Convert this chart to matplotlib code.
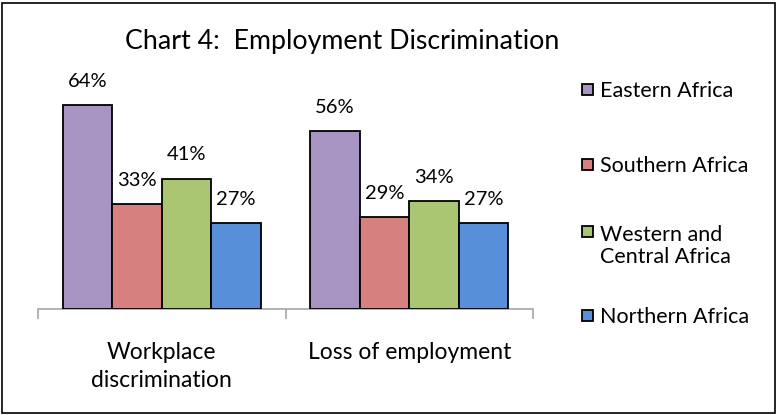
import matplotlib
matplotlib.use('Agg')
import matplotlib.pyplot as plt
from matplotlib.patches import Rectangle
import numpy as np

plt.rcParams['font.family'] = ['Lato', 'DejaVu Sans']

categories = ['Workplace\ndiscrimination', 'Loss of employment']
regions = ['Eastern Africa', 'Southern Africa', 'Western and\nCentral Africa', 'Northern Africa']
values = {
    'Eastern Africa': [64, 56],
    'Southern Africa': [33, 29],
    'Western and\nCentral Africa': [41, 34],
    'Northern Africa': [27, 27],
}
colors = ['#A794C3', '#D68080', '#ABC673', '#578FD8']

fig = plt.figure(figsize=(7.78, 4.15), dpi=100)
ax = fig.add_axes([38 / 778, 106 / 415, 495 / 778, 70 * 3.18 / 415])

x = np.arange(len(categories))
w = 0.2
for i, reg in enumerate(regions):
    bars = ax.bar(x + (i - 1.5) * w, values[reg], w, color=colors[i],
                  edgecolor='black', linewidth=1.3, zorder=3)
    for b, v in zip(bars, values[reg]):
        ax.annotate('%d%%' % v, (b.get_x() + b.get_width() / 2, v),
                    xytext=(0, 11), textcoords='offset points',
                    ha='center', va='bottom', fontsize=14.5)

ax.set_xlim(-0.5, 1.5)
ax.set_ylim(0, 70)
ax.set_yticks([])
for s in ['top', 'right', 'left']:
    ax.spines[s].set_visible(False)
ax.spines['bottom'].set_color('#A6A6A6')
ax.spines['bottom'].set_linewidth(1.2)
ax.set_xticks([-0.5, 0.5, 1.5])
ax.set_xticklabels([])
ax.set_xticks(x, minor=True)
ax.set_xticklabels(categories, minor=True, fontsize=16.5, linespacing=1.37)
ax.tick_params(axis='x', which='major', length=7, color='#A6A6A6', width=1.2, direction='out')
ax.tick_params(axis='x', which='minor', length=0, pad=24)

fig.text(342 / 778, 1 - 42 / 415, 'Chart 4:  Employment Discrimination',
         ha='center', va='center', fontsize=19.3)

# legend drawn by hand so the swatch sits beside the first line of text
legend_y = [90, 165, 232, 316]
for reg, c, yy in zip(regions, colors, legend_y):
    fig.add_artist(Rectangle((582 / 778, 1 - (yy + 5) / 415), 11 / 778, 11 / 415,
                             transform=fig.transFigure, facecolor=c,
                             edgecolor='black', linewidth=1.3))
    nl = reg.count('\n')
    fig.text(600 / 778, 1 - (yy + 1 + nl * 13) / 415, reg, ha='left', va='center',
             fontsize=15.5, linespacing=1.13)

fig.add_artist(Rectangle((2 / 778, 2 / 415), 773 / 778, 410 / 415,
                         transform=fig.transFigure, fill=False,
                         edgecolor='black', linewidth=1.2))

fig.savefig('out.png', dpi=100, facecolor='white')
